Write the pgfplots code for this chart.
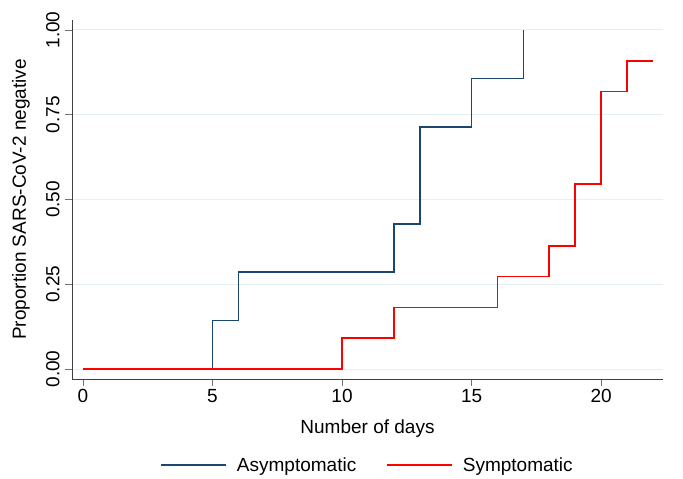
\documentclass[border=0pt]{standalone}
\usepackage{fontspec}
\setmainfont{Liberation Sans}
\usepackage{pgfplots}
\pgfplotsset{compat=1.18}
\definecolor{statanavy}{HTML}{1A476F}
\definecolor{gridc}{HTML}{E6EFF1}
\newcommand\cf{\fontsize{19bp}{23bp}\selectfont}
\begin{document}
\begin{tikzpicture}
\path[use as bounding box] (-72bp,-100bp) rectangle (611bp,379bp);
\begin{axis}[
  scale only axis, width=591bp, height=359bp,
  xmin=-0.425, xmax=22.39, ymin=-0.0295, ymax=1.0295,
  axis lines*=left,
  axis line style={-, black!75, line width=0.8bp},
  tick align=outside, major tick length=7bp,
  tick style={black!55, line width=0.8bp},
  xtick={0,5,10,15,20},
  ytick={0,0.25,0.5,0.75,1},
  yticklabels={0.00,0.25,0.50,0.75,1.00},
  ymajorgrids, grid style={gridc, line width=1bp},
  ticklabel style={font=\cf},
  /pgf/number format/assume math mode=true,
  yticklabel style={rotate=90, anchor=south, yshift=2bp},
  xlabel={Number of days},
  ylabel={Proportion SARS-CoV-2 negative},
  label style={font=\cf},
  xlabel style={at={(axis description cs:0.5,-0.139)}, anchor=center},
  ylabel style={at={(axis description cs:-0.0863,0.5)}, anchor=center},
  legend style={at={(0.5,-0.2396)}, anchor=center, draw=none, fill=none,
    font=\cf, legend columns=-1,
    /tikz/every even column/.append style={column sep=28bp}},
  legend image code/.code={\draw[#1] (0bp,0bp) -- (65bp,0bp); \path (73bp,0bp);},
]
% asymptomatic
\addplot[const plot, statanavy, line width=1.6bp] coordinates {
  (0,0) (5,0.1429) (6,0.2857) (12,0.4286) (13,0.7143) (15,0.8571) (17,1.0)
};
\addlegendentry{Asymptomatic}
% symptomatic
\addplot[const plot, red, line width=1.6bp] coordinates {
  (0,0) (10,0.0909) (12,0.1818) (16,0.2727) (18,0.3636) (19,0.5455)
  (20,0.8182) (21,0.9091) (22,0.9091)
};
\addlegendentry{Symptomatic}
\end{axis}
\end{tikzpicture}
\end{document}
